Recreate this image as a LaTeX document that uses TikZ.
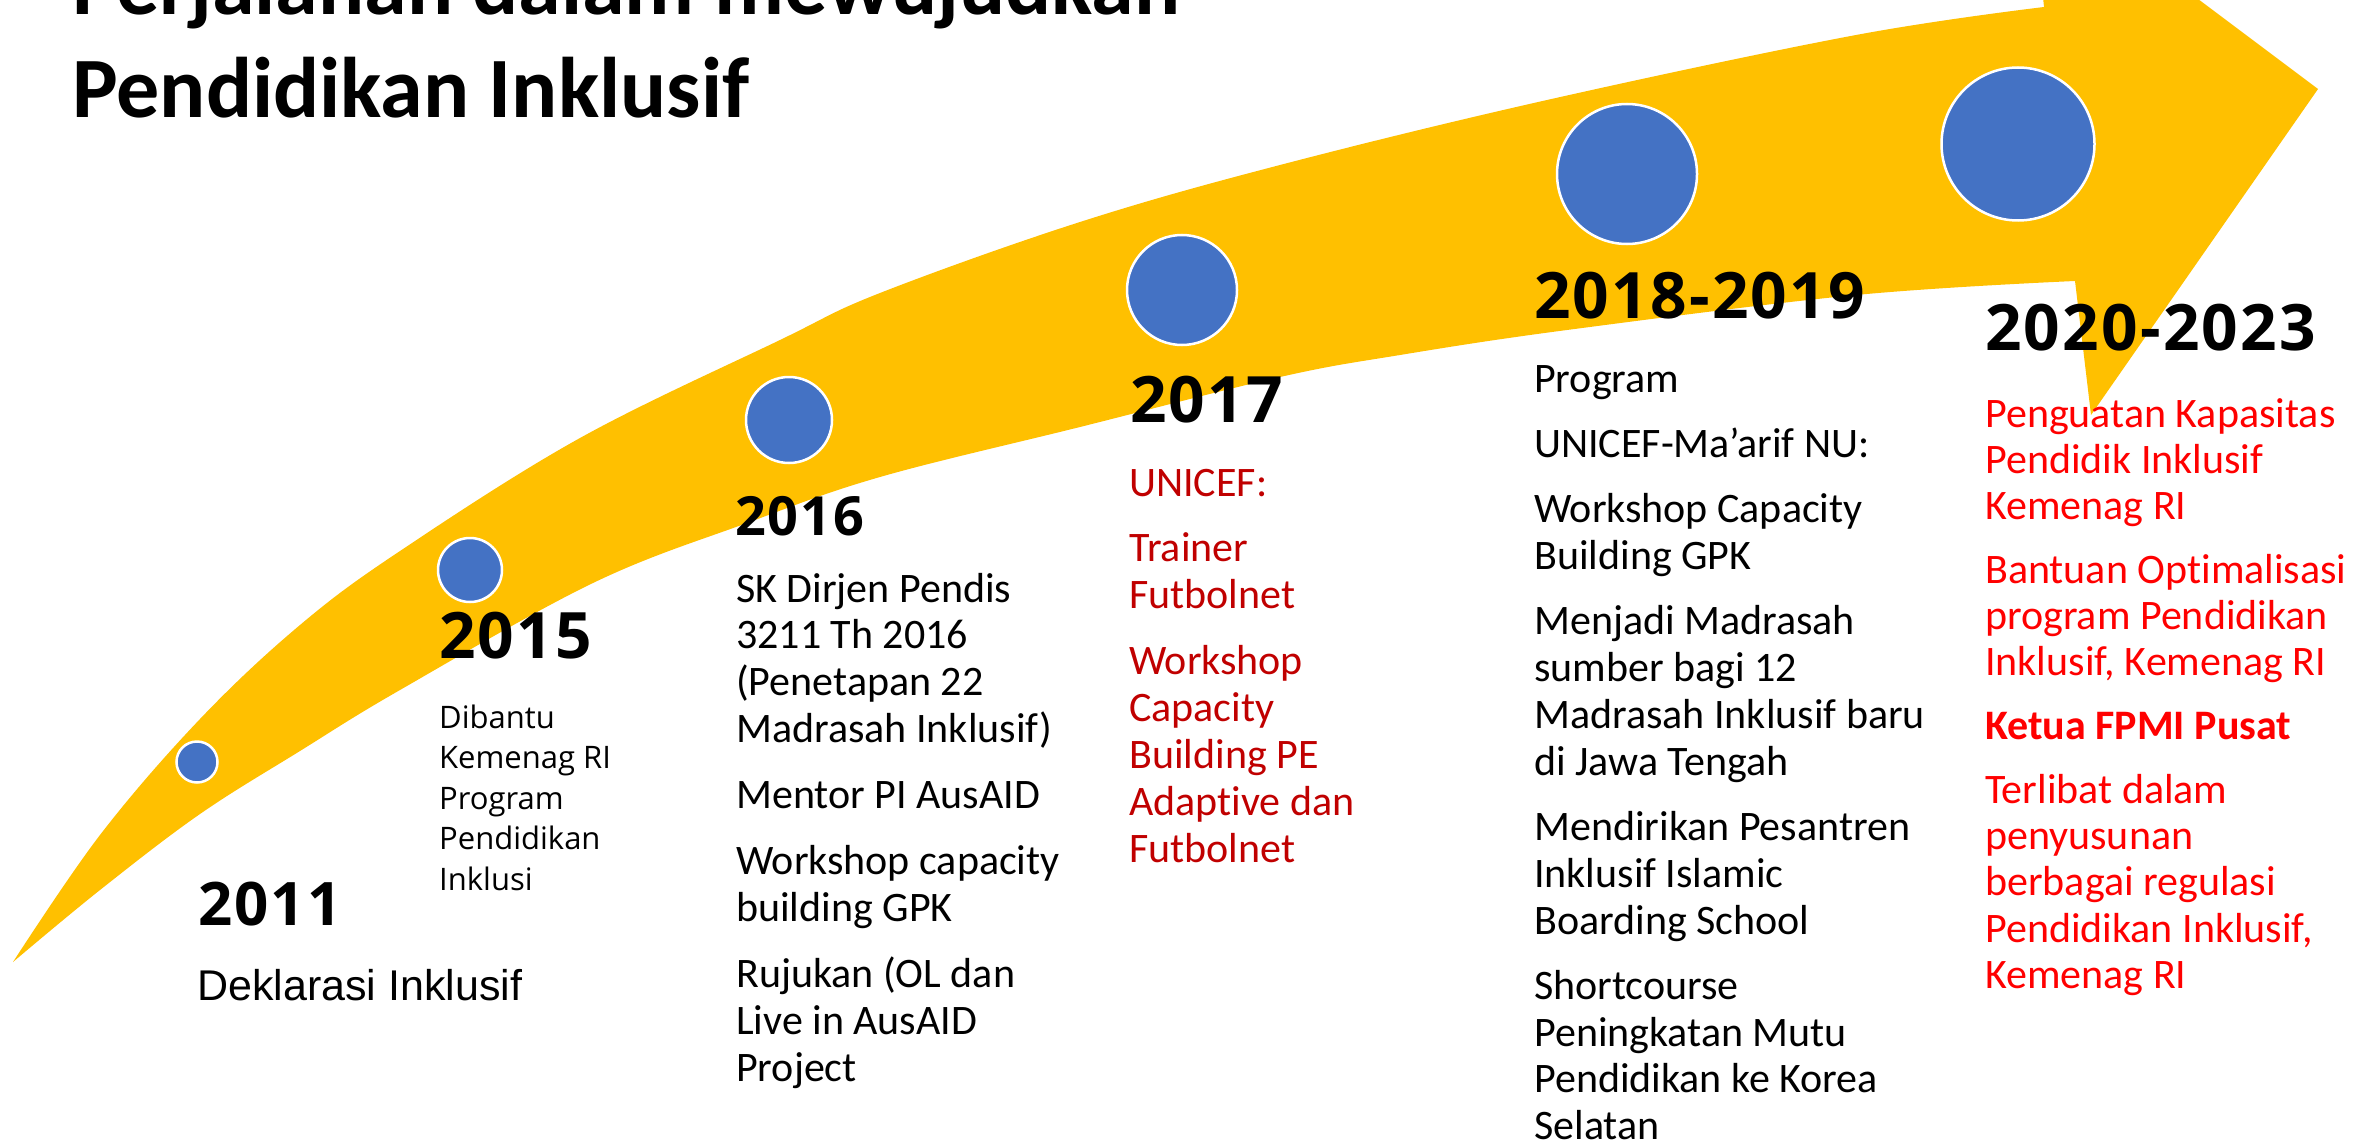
\documentclass[tikz,border=0pt]{standalone}
\usepackage{fontspec}
\setmainfont{Carlito}
\newfontfamily\carlito{Carlito}[Ligatures=NoCommon]
\newfontfamily\osans{Open Sans}
\newfontfamily\yearfont{Open Sans}[LetterSpace=3.5]
\newfontfamily\arialike{Liberation Sans}
\definecolor{arrowyellow}{HTML}{FFC000}
\definecolor{dotblue}{HTML}{4472C4}
\definecolor{darkred}{HTML}{C00000}
\definecolor{brightred}{HTML}{FF0000}
\newcommand{\txl}[1]{\hbox{#1}}
\newcommand{\pgap}{\vskip 19pt}
\newcommand{\rgap}{\vskip 18.5pt}
\newcommand{\qgap}{\vskip 17.4pt}
\begin{document}
\begin{tikzpicture}[x=1pt,y=-1pt,
  dot/.style={circle, fill=dotblue, draw=white, line width=2.5pt, inner sep=0pt},
  yearlbl/.style={anchor=base west, inner sep=0pt, font=\yearfont\bfseries\fontsize{#1}{#1}\selectfont},
  body/.style={anchor=base west, inner sep=0pt, font=\carlito\fontsize{42}{46.9}\selectfont},
  bodym/.style={anchor=base west, inner sep=0pt, font=\carlito\fontsize{42}{46.8}\selectfont},
  bodyb/.style={anchor=base west, inner sep=0pt, font=\carlito\fontsize{42}{46.3}\selectfont},
  titlelbl/.style={anchor=base west, inner sep=0pt, font=\carlito\bfseries\fontsize{86}{102}\selectfont}]
\useasboundingbox (0,0) rectangle (2376,1142);
\clip (0,0) rectangle (2376,1142);
% curved arrow
\fill[arrowyellow] (13,962)
  -- plot[smooth, tension=0.6] coordinates {(13,962) (100,835) (200,719) (300,625) (400,551) (580,438) (780,340) (880,293) (1080,222) (1280,165) (1547,100) (1856,35) (2044,7)}
  -- (2030,-127) -- (2318,89) -- (2091,415) -- (2075,281)
  -- plot[smooth, tension=0.6] coordinates {(2075,281) (1856,295) (1567,330) (1400,355) (1280,377) (1080,427) (880,477) (747,523) (593,583) (400,690) (300,751) (200,814) (100,890) (13,962)}
  -- cycle;
% dots
\node[dot, minimum size=41] (d2011) at (197,762) {};
\node[dot, minimum size=64] (d2015) at (470,570) {};
\node[dot, minimum size=86] (d2016) at (789,420) {};
\node[dot, minimum size=110] (d2017) at (1182,290) {};
\node[dot, minimum size=140] (d2018) at (1627,174) {};
\node[dot, minimum size=153] (d2020) at (2018,144) {};
% title
\node[titlelbl] (title1) at (72,15) {Perjalanan dalam mewujudkan};
\node[titlelbl] (title2) at (72,118) {Pendidikan Inklusif};
% years
\node[yearlbl=60] (y2011) at (198,925) {2011};
\node[yearlbl=64] (y2015) at (439,658) {2015};
\node[yearlbl=54] (y2016) at (735,535) {2016};
\node[yearlbl=64] (y2017) at (1130,422) {2017};
\node[yearlbl=64] (y2018) at (1534,318) {2018-2019};
\node[yearlbl=64] (y2020) at (1985,350) {2020-2023};
% texts
\node[anchor=base west, inner sep=0pt, font=\arialike\fontsize{43}{50}\selectfont] (t2011) at (197,1000) {Deklarasi Inklusif};
\node[anchor=base west, inner sep=0pt, font=\osans\fontsize{31}{40.5}\selectfont] (t2015) at (439,728)
  {\vtop{\txl{Dibantu}\txl{Kemenag RI}\txl{Program}\txl{Pendidikan}\txl{Inklusi}}};
\node[body] (t2016) at (736,602)
  {\vtop{\txl{SK Dirjen Pendis}\txl{3211 Th 2016}\txl{(Penetapan 22}\txl{Madrasah Inklusif)}\pgap
   \txl{Mentor PI AusAID}\pgap
   \txl{Workshop capacity}\txl{building GPK}\pgap
   \txl{Rujukan (OL dan}\txl{Live in AusAID}\txl{Project}}};
\node[body, text=darkred] (t2017) at (1129,496)
  {\vtop{\txl{UNICEF:}\pgap
   \txl{Trainer}\txl{Futbolnet}\pgap
   \txl{Workshop}\txl{Capacity}\txl{Building PE}\txl{Adaptive dan}\txl{Futbolnet}}};
\node[bodym] (t2018) at (1534,392)
  {\vtop{\txl{Program}\rgap
   \txl{UNICEF-Ma’arif NU:}\rgap
   \txl{Workshop Capacity}\txl{Building GPK}\rgap
   \txl{Menjadi Madrasah}\txl{sumber bagi 12}\txl{Madrasah Inklusif baru}\txl{di Jawa Tengah}\rgap
   \txl{Mendirikan Pesantren}\txl{Inklusif Islamic}\txl{Boarding School}\rgap
   \txl{Shortcourse}\txl{Peningkatan Mutu}\txl{Pendidikan ke Korea}\txl{Selatan}}};
\node[bodyb, text=brightred] (t2020) at (1985,427)
  {\vtop{\txl{Penguatan Kapasitas}\txl{Pendidik Inklusif}\txl{Kemenag RI}\qgap
   \txl{Bantuan Optimalisasi}\txl{program Pendidikan}\txl{Inklusif, Kemenag RI}\qgap
   \txl{\bfseries Ketua FPMI Pusat}\qgap
   \txl{Terlibat dalam}\txl{penyusunan}\txl{berbagai regulasi}\txl{Pendidikan Inklusif,}\txl{Kemenag RI}}};
\end{tikzpicture}
\end{document}
